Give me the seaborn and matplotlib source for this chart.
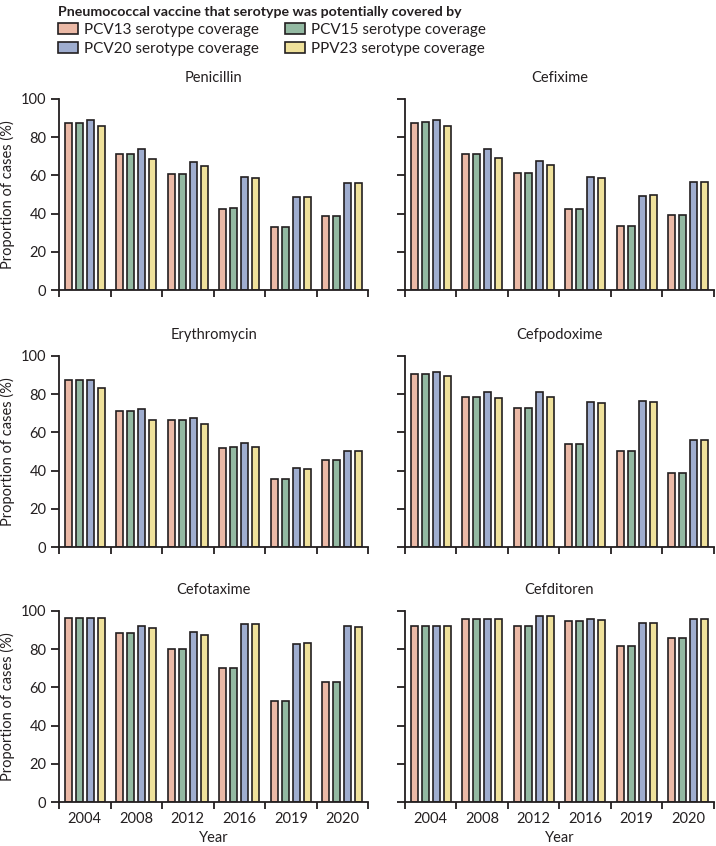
import numpy as np
import matplotlib.pyplot as plt
import pandas as pd
import seaborn as sns

years = ['2004', '2008', '2012', '2016', '2019', '2020']
vaccines = ['PCV13 serotype coverage', 'PCV15 serotype coverage',
            'PCV20 serotype coverage', 'PPV23 serotype coverage']
drugs = ['Penicillin', 'Cefixime', 'Erythromycin', 'Cefpodoxime', 'Cefotaxime', 'Cefditoren']

# values per vaccine, one list per year (PCV13, PCV15, PCV20, PPV23)
penicillin = [[87.3, 87.6, 88.8, 86.0], [71.2, 71.2, 74.0, 68.5], [60.8, 60.8, 67.1, 65.0],
              [42.5, 42.7, 59.4, 58.4], [33.2, 33.2, 48.6, 48.8], [39.0, 39.0, 56.1, 55.9]]
cefixime = [[87.6, 88.0, 88.8, 86.0], [71.2, 71.3, 74.0, 68.9], [61.2, 61.2, 67.5, 65.2],
            [42.5, 42.5, 59.3, 58.4], [33.6, 33.6, 49.3, 49.7], [39.5, 39.5, 56.6, 56.5]]
erythromycin = [[87.2, 87.2, 87.5, 83.2], [71.3, 71.3, 72.4, 66.3], [66.6, 66.6, 67.7, 64.2],
                [51.7, 52.1, 54.2, 52.6], [35.8, 35.8, 41.4, 40.9], [45.6, 45.6, 50.5, 50.2]]
cefpodoxime = [[90.6, 90.8, 91.5, 89.7], [78.7, 78.7, 81.4, 78.0], [72.9, 72.9, 81.0, 78.6],
               [54.0, 54.0, 76.0, 75.3], [50.2, 50.2, 76.7, 76.1], [39.0, 39.0, 55.9, 55.8]]
cefotaxime = [[96.3, 96.3, 96.3, 96.3], [88.7, 88.7, 92.2, 91.0], [80.0, 80.0, 89.0, 87.5],
              [69.9, 69.9, 93.2, 93.2], [52.7, 52.7, 82.8, 83.3], [62.6, 62.6, 92.0, 91.5]]
cefditoren = [[92.0, 92.0, 92.0, 92.0], [95.8, 95.8, 95.8, 95.8], [92.2, 92.2, 97.2, 97.2],
              [94.8, 94.8, 95.7, 95.5], [81.9, 81.9, 93.9, 93.9], [86.1, 86.1, 96.0, 96.0]]

colors = ['#F6B49B', '#8DBFA0', '#97A9D7', '#FDEA8D']

sns.set_style('ticks')
plt.rcParams['font.family'] = ['Lato', 'DejaVu Sans']
ink = '#231f20'
plt.rcParams['axes.edgecolor'] = ink
plt.rcParams['text.color'] = ink
plt.rcParams['xtick.color'] = ink
plt.rcParams['ytick.color'] = ink
plt.rcParams['axes.labelcolor'] = ink

fig = plt.figure(figsize=(7.16, 8.46), dpi=100)

all_vals = [penicillin, cefixime, erythromycin, cefpodoxime, cefotaxime, cefditoren]
lefts = [0.0824, 0.5656]
bottoms = [0.6572, 0.3534, 0.0520]

handles = None
for i, (drug, vals) in enumerate(zip(drugs, all_vals)):
    row, col = i // 2, i % 2
    ax = fig.add_axes([lefts[col], bottoms[row], 0.4316, 0.2258])
    rows = []
    for y, v in zip(years, vals):
        for vac, val in zip(vaccines, v):
            rows.append({'Year': y, 'vaccine': vac, 'value': val})
    df = pd.DataFrame(rows)
    sns.barplot(data=df, x='Year', y='value', hue='vaccine', palette=colors,
                edgecolor=ink, linewidth=1.2, width=0.86, gap=0.37,
                ax=ax, legend=(i == 0))
    if i == 0:
        handles, labels = ax.get_legend_handles_labels()
        ax.get_legend().remove()
    ax.set_ylim(0, 100)
    ax.set_xlim(-0.5, 5.5)
    ax.set_yticks([0, 20, 40, 60, 80, 100])
    sns.despine(ax=ax)
    for s in ['left', 'bottom']:
        ax.spines[s].set_linewidth(1.3)
    ax.tick_params(axis='y', length=5.5, width=1.3, labelsize=10.5)
    ax.set_xticks(np.arange(-0.5, 6, 1), minor=True)
    ax.tick_params(axis='x', which='minor', length=5, width=1.3)
    ax.tick_params(axis='x', which='major', length=0, labelsize=10.5, pad=7)
    ax.set_title(drug, fontsize=10.5, pad=12)
    if col == 0:
        ax.set_ylabel('Proportion of cases (%)', fontsize=10.5)
    else:
        ax.set_ylabel('')
        ax.set_yticklabels([])
    if row == 2:
        ax.set_xlabel('Year', fontsize=10.5, labelpad=4)
    else:
        ax.set_xlabel('')
        ax.set_xticklabels([])

order = [0, 2, 1, 3]
leg = fig.legend([handles[k] for k in order], [labels[k] for k in order],
                 ncol=2, loc='upper left', bbox_to_anchor=(0.066, 1.005),
                 frameon=False, fontsize=11, handlelength=1.3, handleheight=0.7,
                 handletextpad=0.4, columnspacing=1.7, labelspacing=0.3,
                 title='Pneumococcal vaccine that serotype was potentially covered by',
                 title_fontproperties={'weight': 'bold', 'size': 10.2},
                 alignment='left', borderpad=0.2)

fig.savefig('out.png', dpi=100)
